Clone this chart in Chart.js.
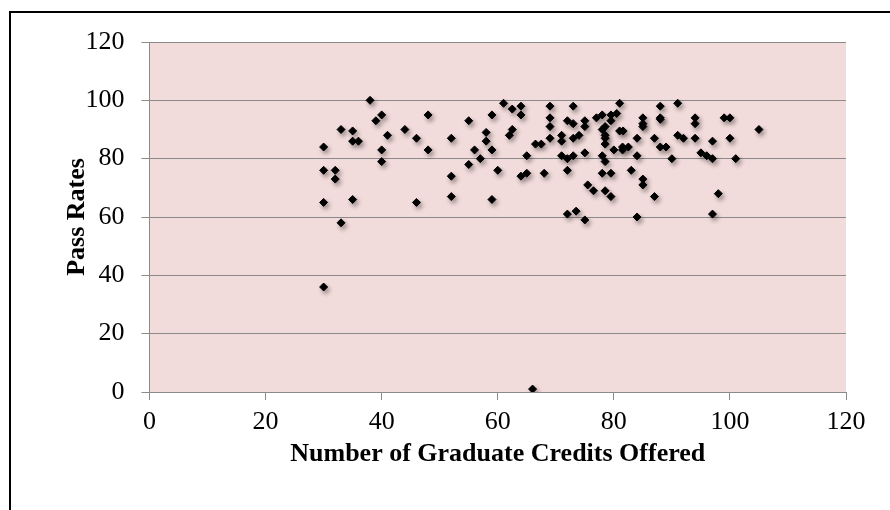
<!DOCTYPE html>
<html>
<head>
<meta charset="utf-8">
<script src="https://cdn.jsdelivr.net/npm/chart.js@4.4.0/dist/chart.umd.min.js"></script>
<style>
  html, body { margin: 0; padding: 0; background: #fff; overflow: hidden; }
  #wrap { position: relative; width: 890px; height: 510px; overflow: hidden; }
  #frame { position: absolute; left: 9px; top: 11px; width: 900px; height: 520px; border: 2px solid #000; pointer-events: none; }
</style>
</head>
<body>
<div id="wrap">
  <canvas id="chart" width="890" height="510"></canvas>
  <div id="frame"></div>
</div>
<script>
// graduate credits offered (x) vs pass rates (y)
const credits = [
  30, 30, 30, 30, 32, 32, 33, 33, 35, 35, 36, 35, 38, 39, 40, 40, 40, 41, 44, 46,
  46, 48, 48, 52, 52, 52, 55, 55, 56, 57, 58, 58, 59, 59, 59, 60, 61, 62, 62.5, 62.5,
  64, 64, 64, 65, 65, 66, 66.5, 67.5, 68, 69, 69, 69, 69, 71, 71, 71, 72, 72, 72, 72,
  73, 73, 73, 73, 73.5, 74, 75, 75, 75, 75, 75.5, 76.5, 77, 78, 78, 78, 78, 78.5, 78.5, 78.5,
  78.5, 78.5, 78.5, 79.5, 79.5, 79.5, 79.5, 80.5, 81, 81, 81.6, 80, 81.5, 81.5, 82.5, 83, 84, 84, 84, 85,
  85, 85, 85, 85, 87, 87, 88, 88, 88, 88, 89, 90, 91, 91, 92, 94, 94, 94, 95, 96,
  97, 97, 97, 98, 99, 100, 100, 101, 105
];
const passRates = [
  84, 76, 65, 36, 76, 73, 90, 58, 89.5, 86, 86, 66, 100, 93, 95, 83, 79, 88, 90, 87,
  65, 95, 83, 87, 74, 67, 93, 78, 83, 80, 89, 86, 95, 83, 66, 76, 99, 88, 97, 90,
  98, 95, 74, 81, 75, 1, 85, 85, 75, 98, 94, 91, 87, 88, 86, 81, 93, 80, 76, 61,
  92, 98, 87, 81, 62, 88, 93, 91, 82, 59, 71, 69, 94, 95, 90, 81, 75, 91, 88, 87,
  85, 79, 69, 95, 93, 75, 67, 95.5, 99, 89.5, 89.5, 83, 83, 84, 84, 76, 87, 81, 60, 94,
  92, 91, 73, 71, 87, 67, 98, 94, 93.5, 84, 84, 80, 99, 88, 87, 94, 92, 87, 82, 81,
  86, 80, 61, 68, 94, 94, 87, 80, 90
];
const xTicks = [0, 20, 40, 60, 80, 100, 120];
const yTicks = [0, 20, 40, 60, 80, 100, 120];

const points = credits.map((c, i) => ({ x: c, y: passRates[i] }));

const plotBg = {
  id: 'plotBg',
  beforeDraw(chart) {
    const { ctx, chartArea: a } = chart;
    ctx.save();
    ctx.fillStyle = '#f2dcdb';
    ctx.fillRect(a.left, a.top, a.right - a.left, a.bottom - a.top);
    ctx.restore();
  }
};

const markerShadow = {
  id: 'markerShadow',
  beforeDatasetsDraw(chart) {
    const ctx = chart.ctx;
    ctx.save();
    ctx.shadowColor = 'rgba(0,0,0,0.35)';
    ctx.shadowBlur = 4;
    ctx.shadowOffsetX = 2;
    ctx.shadowOffsetY = 3;
  },
  afterDatasetsDraw(chart) {
    chart.ctx.restore();
  }
};

const gridColor = '#8a8a8a';
const serif = '"Liberation Serif", "DejaVu Serif", serif';

new Chart(document.getElementById('chart'), {
  type: 'scatter',
  data: {
    datasets: [{
      data: points,
      pointStyle: 'rectRot',
      pointRadius: 4,
      pointHoverRadius: 4,
      backgroundColor: '#000',
      borderColor: '#000',
      borderWidth: 1
    }]
  },
  options: {
    responsive: false,
    animation: false,
    events: [],
    layout: { padding: { left: 58, right: 44, top: 42, bottom: 36 } },
    plugins: {
      legend: { display: false },
      tooltip: { enabled: false }
    },
    scales: {
      x: {
        type: 'linear',
        min: 0,
        max: 120,
        afterBuildTicks(axis) { axis.ticks = xTicks.map(v => ({ value: v })); },
        afterFit(axis) { axis.height = 82; },
        grid: { drawOnChartArea: false, drawTicks: true, tickLength: 8, color: gridColor, lineWidth: 1 },
        border: { color: gridColor, width: 1 },
        ticks: { color: '#000', padding: 7, font: { family: serif, size: 26 } },
        title: {
          display: true,
          text: 'Number of Graduate Credits Offered',
          color: '#000',
          font: { family: serif, size: 26, weight: 'bold' }
        }
      },
      y: {
        type: 'linear',
        min: 0,
        max: 120,
        afterBuildTicks(axis) { axis.ticks = yTicks.map(v => ({ value: v })); },
        afterFit(axis) { axis.width = 91.5; },
        grid: { drawOnChartArea: true, drawTicks: true, tickLength: 8, color: gridColor, lineWidth: 1 },
        border: { color: gridColor, width: 1 },
        ticks: { color: '#000', padding: 17, font: { family: serif, size: 26 } },
        title: {
          display: true,
          text: 'Pass Rates',
          color: '#000',
          font: { family: serif, size: 26, weight: 'bold' }
        }
      }
    }
  },
  plugins: [plotBg, markerShadow]
});
</script>
</body>
</html>
